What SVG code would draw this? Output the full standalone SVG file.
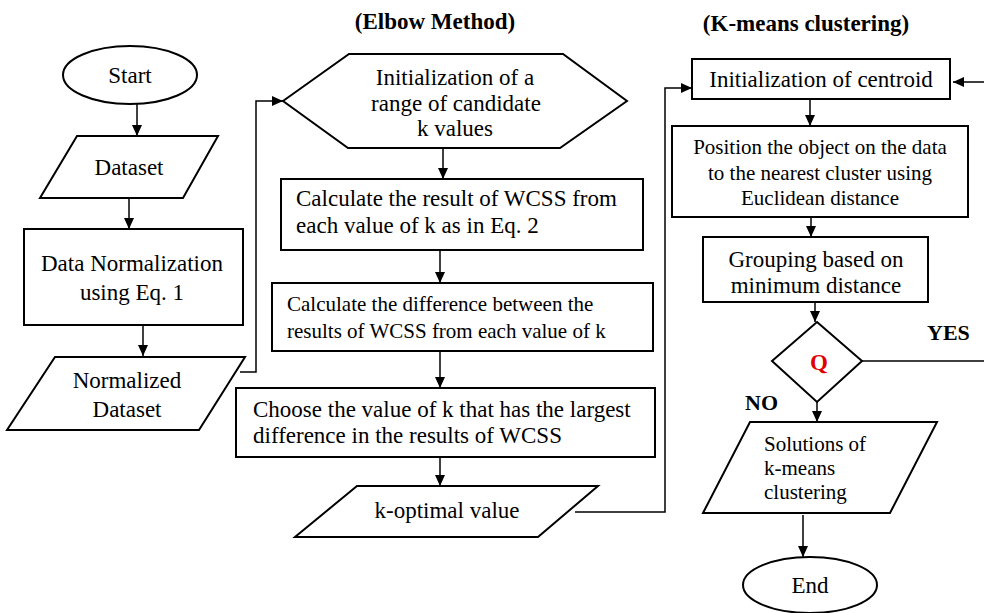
<svg xmlns="http://www.w3.org/2000/svg" width="984" height="613" viewBox="0 0 984 613" font-family="'Liberation Serif', 'Times New Roman', serif">
<defs>
<style>
.s{fill:#fff;stroke:#000;stroke-width:2}
.c{fill:none;stroke:#000;stroke-width:1.5}
text{font-family:"Liberation Serif","Times New Roman",serif;font-size:23px;fill:#000}
.m{text-anchor:middle}
.sm{font-size:21px}
.b{font-weight:bold}
</style>
<marker id="ah" markerUnits="userSpaceOnUse" markerWidth="12" markerHeight="12" viewBox="0 0 12 12" refX="11" refY="6" orient="auto">
<path d="M0,1 L11,6 L0,11 Z" fill="#000"/>
</marker>
</defs>
<rect width="984" height="613" fill="#fff"/>
<text class="b m" x="435" y="29">(Elbow Method)</text>
<text class="b m" x="806" y="31">(K-means clustering)</text>

<g id="connectors">
<path class="c" d="M137,104 V136" marker-end="url(#ah)"/>
<path class="c" d="M129,198 V229" marker-end="url(#ah)"/>
<path class="c" d="M143,325 V356" marker-end="url(#ah)"/>
<path class="c" d="M240,372 H256 V101 H283" marker-end="url(#ah)"/>
<path class="c" d="M443,148 V179" marker-end="url(#ah)"/>
<path class="c" d="M440,250 V283" marker-end="url(#ah)"/>
<path class="c" d="M440,351 V388" marker-end="url(#ah)"/>
<path class="c" d="M440,457 V486" marker-end="url(#ah)"/>
<path class="c" d="M575,512 H665 V88 H692" marker-end="url(#ah)"/>
<path class="c" d="M810,99 V126" marker-end="url(#ah)"/>
<path class="c" d="M811,217 V237" marker-end="url(#ah)"/>
<path class="c" d="M815,302 V322" marker-end="url(#ah)"/>
<path class="c" d="M862,361 H990 V82 H953" marker-end="url(#ah)"/>
<path class="c" d="M817,402 V422" marker-end="url(#ah)"/>
<path class="c" d="M803,515 V557" marker-end="url(#ah)"/>
</g>

<g id="start">
<ellipse class="s" cx="130" cy="75" rx="67" ry="29"/>
<text class="m" x="130" y="83">Start</text>
</g>
<g id="dataset">
<polygon class="s" points="77,136 218,136 183,198 40,198"/>
<text class="m" x="129" y="175">Dataset</text>
</g>
<g id="normalization">
<rect class="s" x="24" y="229" width="219" height="96"/>
<text class="m" x="132" y="271">Data Normalization</text>
<text class="m" x="132" y="300">using Eq. 1</text>
</g>
<g id="normalized-dataset">
<polygon class="s" points="55,357 245,357 199,430 7,430"/>
<text class="m" x="127" y="388">Normalized</text>
<text class="m" x="127" y="417">Dataset</text>
</g>

<g id="init-k">
<polygon class="s" points="283,101 349,54 563,54 627,101 560,148 348,148"/>
<text class="m" x="455" y="85">Initialization of a</text>
<text class="m" x="456" y="111">range of candidate</text>
<text class="m" x="455" y="136">k values</text>
</g>
<g id="wcss">
<rect class="s" x="281" y="179" width="362" height="71"/>
<text x="296" y="206">Calculate the result of WCSS from</text>
<text x="296" y="233">each value of k as in Eq. 2</text>
</g>
<g id="difference">
<rect class="s" x="272" y="283" width="381" height="68"/>
<text class="sm" x="287" y="311">Calculate the difference between the</text>
<text class="sm" x="287" y="338">results of WCSS from each value of k</text>
</g>
<g id="choose">
<rect class="s" x="236" y="388" width="419" height="69"/>
<text x="253" y="417">Choose the value of k that has the largest</text>
<text x="253" y="443">difference in the results of WCSS</text>
</g>
<g id="k-optimal">
<polygon class="s" points="357,486 598,486 538,537 295,537"/>
<text class="m" x="447" y="518">k-optimal value</text>
</g>

<g id="init-centroid">
<rect class="s" x="692" y="59" width="258" height="40"/>
<text class="m" x="821" y="87">Initialization of centroid</text>
</g>
<g id="position">
<rect class="s" x="672" y="126" width="296" height="91"/>
<text class="m sm" x="820" y="154">Position the object on the data</text>
<text class="m sm" x="820" y="180">to the nearest cluster using</text>
<text class="m sm" x="820" y="205">Euclidean distance</text>
</g>
<g id="grouping">
<rect class="s" x="703" y="237" width="225" height="65"/>
<text class="m" x="816" y="267">Grouping based on</text>
<text class="m" x="816" y="293">minimum distance</text>
</g>
<g id="decision">
<polygon class="s" points="817,322 862,361 817,402 772,361"/>
<text class="m b" x="819" y="370" style="fill:#e00000">Q</text>
<text class="b" x="927" y="340" style="font-size:22px">YES</text>
<text class="b" x="745" y="410" style="font-size:22px">NO</text>
</g>
<g id="solutions">
<polygon class="s" points="750,422 937,422 890,513 703,513"/>
<text class="sm" x="764" y="451">Solutions of</text>
<text class="sm" x="764" y="475">k-means</text>
<text class="sm" x="764" y="499">clustering</text>
</g>
<g id="end">
<ellipse class="s" cx="810" cy="585" rx="67" ry="28"/>
<text class="m" x="810" y="593">End</text>
</g>
</svg>
